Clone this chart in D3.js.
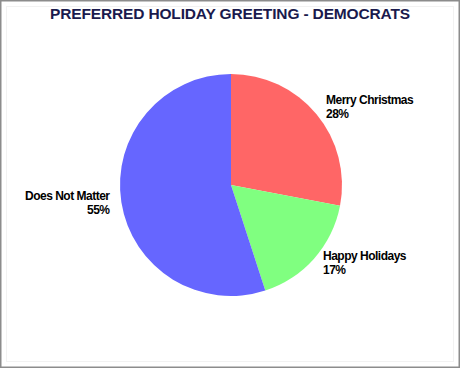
<!DOCTYPE html>
<html><head><meta charset="utf-8">
<script src="https://cdn.jsdelivr.net/npm/d3@7"></script>
<style>html,body{margin:0;padding:0;background:#fff;}</style>
</head><body>
<script>
const categories = ["Merry Christmas", "Happy Holidays", "Does Not Matter"];
const values = [28, 17, 55];
const labels = ["28%", "17%", "55%"];
const colors = ["#FF6666", "#80FF80", "#6666FF"];

const W = 460, H = 368;
const svg = d3.select("body").append("svg").attr("width", W).attr("height", H)
  .style("font-family", "Arial, 'Liberation Sans', sans-serif");

svg.append("rect").attr("x", 0.5).attr("y", 0.5).attr("width", W - 1).attr("height", H - 1)
  .attr("fill", "#fff").attr("stroke", "#8c8c8c").attr("stroke-width", 2);
svg.append("rect").attr("x", 6.5).attr("y", 6.5).attr("width", W - 13).attr("height", H - 13)
  .attr("fill", "none").attr("stroke", "#f2f2f2").attr("stroke-width", 1);

svg.append("text").attr("x", 230).attr("y", 19).attr("text-anchor", "middle")
  .attr("font-size", 15.5).attr("font-weight", "bold").attr("fill", "#1a1a4d")
  .attr("letter-spacing", -0.15)
  .text("PREFERRED HOLIDAY GREETING - DEMOCRATS");

const cx = 231, cy = 185, r = 111;
const pie = d3.pie().sort(null).value(d => d)(values);
const arc = d3.arc().innerRadius(0).outerRadius(r);
const g = svg.append("g").attr("transform", `translate(${cx},${cy})`);
g.selectAll("path").data(pie).join("path")
  .attr("d", arc).attr("fill", (d, i) => colors[i]);

const labelPos = [
  {x: 326, y: 104, anchor: "start"},
  {x: 323, y: 260, anchor: "start"},
  {x: 109.5, y: 200, anchor: "end"}
];
categories.forEach((c, i) => {
  const t = svg.append("text").attr("x", labelPos[i].x).attr("y", labelPos[i].y)
    .attr("text-anchor", labelPos[i].anchor).attr("font-size", 12)
    .attr("font-weight", "bold").attr("fill", "#000").attr("letter-spacing", -0.5);
  t.append("tspan").attr("x", labelPos[i].x).text(c);
  t.append("tspan").attr("x", labelPos[i].x).attr("dy", 13.5).text(labels[i]);
});
</script>
</body></html>
